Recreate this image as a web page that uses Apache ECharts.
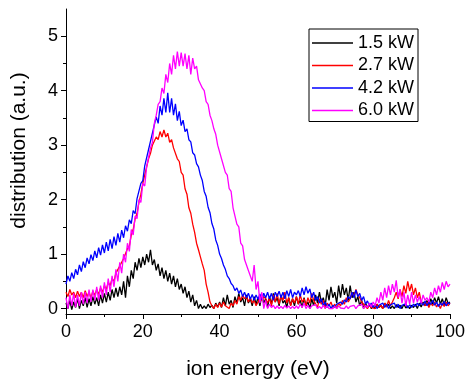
<!DOCTYPE html>
<html>
<head>
<meta charset="utf-8">
<script src="https://cdn.jsdelivr.net/npm/echarts@6/dist/echarts.min.js"></script>
<style>html,body{margin:0;padding:0;background:#fff}#c{width:468px;height:385px}</style>
</head>
<body>
<div id="c"></div>
<script>
// sample spacing of energy axis (eV), first sample at 0 eV
const energyStart = 0;
const energyStep = 0.5;

const seriesNames = ['1.5 kW', '2.7 kW', '4.2 kW', '6.0 kW'];
const xTicks = [0, 20, 40, 60, 80, 100];
const yTicks = [0, 1, 2, 3, 4, 5];
const yMinorTicks = [0.5, 1.5, 2.5, 3.5, 4.5];

const kw15 = [
0.1,0.0,0.15,-0.02,0.12,0.02,0.18,0.0,0.15,0.05,0.2,0.02,0.18,0.05,0.22,0.08,0.2,0.05,0.25,0.1,
0.28,0.12,0.3,0.15,0.35,0.2,0.38,0.22,0.4,0.25,0.5,0.2,0.6,0.4,0.7,0.55,0.85,0.7,0.92,0.75,
0.95,0.8,1.0,0.85,1.08,0.8,0.9,0.7,0.82,0.6,0.75,0.55,0.7,0.5,0.65,0.45,0.6,0.4,0.55,0.35,
0.45,0.28,0.4,0.2,0.32,0.12,0.25,0.05,0.15,0.0,0.08,0.0,0.05,0.0,0.08,0.02,0.06,0.0,0.1,0.03,
0.12,0.02,0.2,0.05,0.25,0.08,0.15,0.02,0.22,0.1,0.28,0.12,0.2,0.05,0.25,0.1,0.18,0.05,0.22,0.08,
0.2,0.05,0.25,0.1,0.18,0.02,0.22,0.08,0.28,0.12,0.2,0.05,0.25,0.1,0.15,0.02,0.2,0.06,0.18,0.05,
0.22,0.08,0.15,0.02,0.2,0.05,0.12,0.0,0.18,0.05,0.25,0.1,0.3,0.12,0.2,0.05,0.35,0.15,0.4,0.2,
0.3,0.1,0.42,0.2,0.45,0.25,0.38,0.15,0.42,0.2,0.3,0.12,0.22,0.05,0.15,0.0,0.1,0.02,0.08,0.0,
0.05,0.0,0.08,0.02,0.06,0.0,0.1,0.03,0.08,0.0,0.05,0.0,0.07,0.02,0.06,0.0,0.08,0.01,0.05,0.0,
0.06,0.02,0.08,0.0,0.1,0.03,0.12,0.05,0.15,0.05,0.18,0.08,0.2,0.1,0.22,0.08,0.18,0.06,0.2,0.1,
0.12];

const kw27 = [
0.3,0.22,0.35,0.25,0.3,0.2,0.32,0.22,0.3,0.2,0.33,0.22,0.3,0.2,0.32,0.24,0.35,0.26,0.38,0.3,
0.42,0.35,0.48,0.42,0.55,0.5,0.65,0.62,0.78,0.75,0.92,0.95,1.1,1.15,1.35,1.45,1.65,1.75,1.95,2.1,
2.3,2.45,2.6,2.75,2.85,3.0,3.0,3.15,3.1,3.25,3.15,3.28,3.15,3.22,3.05,3.1,2.95,2.92,2.75,2.7,
2.5,2.45,2.2,2.1,1.85,1.75,1.55,1.4,1.2,1.08,0.95,0.82,0.7,0.45,0.3,0.12,0.05,0.0,0.08,0.02,
0.1,0.03,0.12,0.05,0.08,0.0,0.1,0.05,0.15,0.08,0.22,0.15,0.25,0.18,0.22,0.12,0.2,0.1,0.15,0.05,
0.12,0.2,0.15,0.22,0.18,0.1,0.2,0.05,0.25,0.12,0.28,0.08,0.22,0.15,0.3,0.1,0.2,0.05,0.18,0.1,
0.22,0.08,0.25,0.12,0.18,0.05,0.2,0.1,0.28,0.15,0.12,0.02,0.18,0.08,0.15,0.0,0.1,0.05,0.12,0.02,
0.08,0.0,0.1,0.05,0.15,0.08,0.2,0.12,0.18,0.3,0.22,0.35,0.25,0.2,0.12,0.08,0.05,0.0,0.06,0.02,
0.05,0.0,0.08,0.02,0.06,0.0,0.1,0.03,0.15,0.05,0.12,0.2,0.3,0.18,0.35,0.22,0.42,0.28,0.5,0.32,
0.45,0.25,0.38,0.2,0.3,0.12,0.15,0.05,0.12,0.02,0.1,0.05,0.12,0.03,0.08,0.0,0.1,0.04,0.12,0.05,
0.1];

const kw42 = [
0.45,0.6,0.5,0.66,0.55,0.72,0.62,0.8,0.68,0.86,0.75,0.93,0.82,0.99,0.88,1.06,0.93,1.12,0.98,1.17,
1.02,1.22,1.06,1.27,1.1,1.32,1.16,1.38,1.22,1.44,1.3,1.52,1.42,1.63,1.56,1.8,1.74,2.02,2.02,2.3,
2.35,2.62,2.62,2.92,2.95,3.22,3.22,3.52,3.4,3.72,3.55,3.86,3.6,3.96,3.6,3.86,3.55,3.76,3.45,3.62,
3.36,3.46,3.25,3.3,3.1,3.06,2.86,2.82,2.66,2.6,2.45,2.35,2.15,2.06,1.86,1.76,1.56,1.46,1.26,1.16,
1.0,0.92,0.8,0.72,0.6,0.55,0.46,0.42,0.33,0.38,0.28,0.34,0.22,0.3,0.2,0.28,0.17,0.26,0.15,0.25,
0.17,0.27,0.16,0.28,0.2,0.3,0.18,0.28,0.15,0.3,0.22,0.32,0.2,0.3,0.18,0.33,0.22,0.35,0.2,0.3,
0.25,0.33,0.22,0.38,0.25,0.4,0.28,0.36,0.2,0.3,0.15,0.22,0.1,0.18,0.05,0.12,0.02,0.08,0.0,0.06,
0.02,0.08,0.05,0.12,0.08,0.16,0.12,0.22,0.18,0.3,0.2,0.34,0.22,0.28,0.15,0.22,0.08,0.14,0.05,0.1,
0.02,0.08,0.0,0.06,0.03,0.1,0.02,0.08,0.0,0.07,0.04,0.1,0.02,0.08,0.0,0.06,0.03,0.09,0.01,0.07,
0.02,0.08,0.04,0.1,0.05,0.12,0.06,0.14,0.05,0.12,0.08,0.15,0.06,0.12,0.04,0.1,0.06,0.13,0.05,0.11,
0.08];

const kw60 = [
0.2,0.0,0.25,0.05,0.28,0.02,0.25,0.05,0.3,0.08,0.3,0.1,0.35,0.12,0.35,0.15,0.4,0.15,0.42,0.2,
0.48,0.25,0.55,0.3,0.6,0.4,0.72,0.5,0.85,0.65,1.0,0.85,1.2,1.05,1.45,1.35,1.7,1.65,2.0,1.95,
2.3,2.25,2.6,2.6,2.95,3.05,3.4,3.55,3.75,3.8,4.05,3.95,4.3,4.15,4.5,4.3,4.65,4.4,4.72,4.45,
4.7,4.45,4.68,4.4,4.65,4.3,4.6,4.4,4.45,4.2,4.2,4.05,4.0,3.8,3.75,3.55,3.45,3.3,3.2,3.0,
3.0,2.75,2.75,2.5,2.45,2.2,2.15,1.85,1.85,1.55,1.5,1.2,1.15,0.9,0.9,0.7,0.72,0.5,0.8,0.35,
0.5,0.1,0.3,0.0,0.15,0.0,0.08,0.02,0.06,0.0,0.05,0.0,0.04,0.0,0.06,0.01,0.05,0.0,0.04,0.0,
0.05,0.0,0.08,0.02,0.1,0.0,0.06,0.0,0.05,0.02,0.07,0.0,0.04,0.0,0.06,0.01,0.05,0.0,0.03,0.0,
0.04,0.0,0.05,0.01,0.03,0.0,0.05,0.0,0.04,0.02,0.06,0.0,0.05,0.02,0.08,0.0,0.06,0.02,0.1,0.03,
0.12,0.05,0.2,0.1,0.3,0.15,0.38,0.2,0.42,0.25,0.45,0.3,0.52,0.2,0.35,0.1,0.3,0.05,0.25,0.08,
0.3,0.1,0.25,0.12,0.22,0.1,0.25,0.15,0.2,0.12,0.3,0.2,0.38,0.25,0.42,0.3,0.48,0.35,0.5,0.4,
0.45];

const seriesValues = [kw15, kw27, kw42, kw60];
const seriesColors = ['#000000', '#ff0000', '#0000ff', '#ff00ff'];

function pairs(vals) {
  return vals.map((v, i) => [energyStart + i * energyStep, v]);
}

const chart = echarts.init(document.getElementById('c'), null, {renderer: 'canvas'});
const FONT = 'Liberation Sans, Arial, sans-serif';
chart.setOption({
  animation: false,
  backgroundColor: '#ffffff',
  grid: {left: 66, right: 15, top: 9, bottom: 64, containLabel: false},
  legend: {
    orient: 'vertical',
    left: 309, top: 29,
    borderColor: '#000', borderWidth: 1,
    padding: [4, 4, 1, 3],
    itemWidth: 41, itemHeight: 1.5, itemGap: 2.5,
    icon: 'rect',
    textStyle: {fontFamily: FONT, fontSize: 18, color: '#000', lineHeight: 20},
    data: seriesNames
  },
  xAxis: {
    type: 'value', min: 0, max: 100, interval: 20,
    axisLine: {onZero: false, lineStyle: {color: '#000', width: 1}},
    axisTick: {show: true, inside: false, length: 5, lineStyle: {color: '#000'}},
    minorTick: {show: true, splitNumber: 2, length: 3, lineStyle: {color: '#000'}},
    splitLine: {show: false},
    axisLabel: {fontFamily: FONT, fontSize: 18, color: '#000', margin: 9,
      customValues: xTicks},
    name: 'ion energy (eV)', nameLocation: 'middle', nameGap: 45,
    nameTextStyle: {fontFamily: FONT, fontSize: 21, color: '#000'}
  },
  yAxis: [{
    type: 'value', min: -0.1, max: 5.5,
    axisLine: {show: true, onZero: false, lineStyle: {color: '#000', width: 1}},
    axisTick: {show: true, length: 5, customValues: yTicks, lineStyle: {color: '#000'}},
    axisLabel: {fontFamily: FONT, fontSize: 18, color: '#000', margin: 8, customValues: yTicks},
    splitLine: {show: false},
    name: 'distribution (a.u.)', nameLocation: 'middle', nameGap: 36,
    nameTextStyle: {fontFamily: FONT, fontSize: 21, color: '#000', padding: [0, 0, 0, 22]}
  }, {
    type: 'value', min: -0.1, max: 5.5, position: 'left',
    axisLine: {show: false, onZero: false},
    axisTick: {show: true, length: 3, customValues: yMinorTicks, lineStyle: {color: '#000'}},
    axisLabel: {show: false},
    splitLine: {show: false}
  }],
  series: seriesNames.map((name, k) => ({
    name: name,
    type: 'line',
    yAxisIndex: 0,
    data: pairs(seriesValues[k]),
    showSymbol: false,
    symbol: 'none',
    color: seriesColors[k],
    lineStyle: {color: seriesColors[k], width: 1.3},
    z: 2 + k
  }))
});
</script>
</body>
</html>
